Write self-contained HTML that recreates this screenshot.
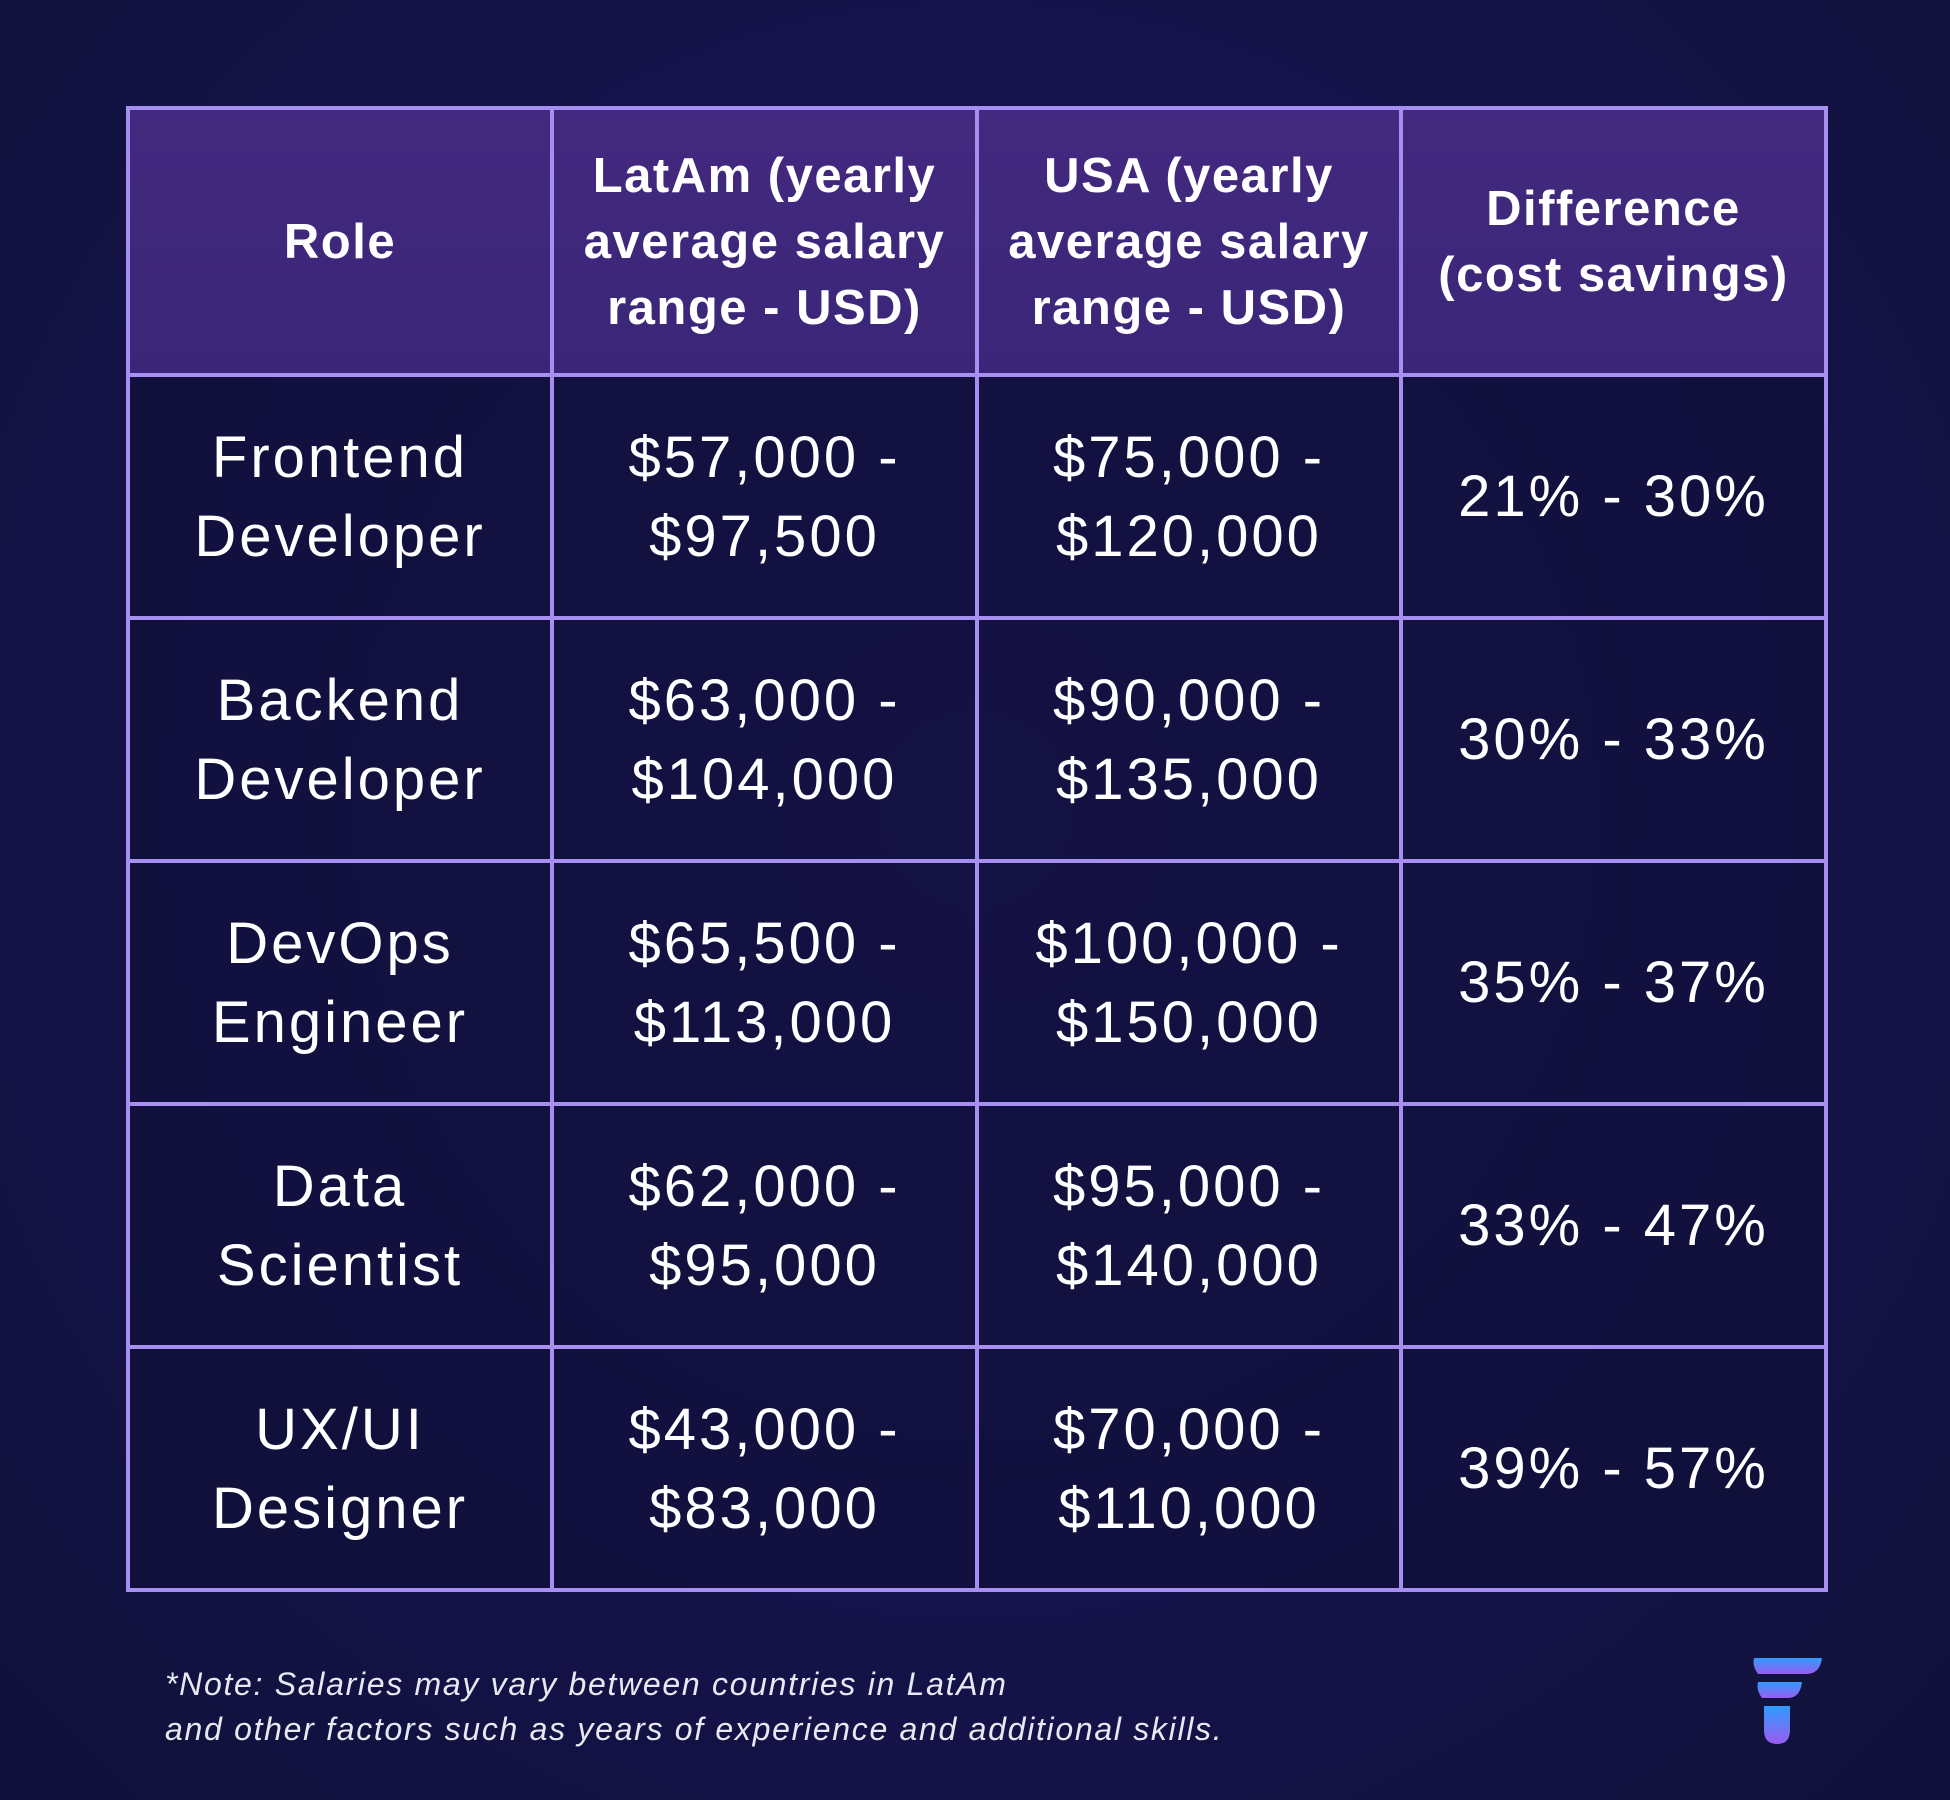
<!DOCTYPE html>
<html><head><meta charset="utf-8">
<style>
html,body{margin:0;padding:0;}
body{width:1950px;height:1800px;background:radial-gradient(ellipse at 50% 45%,#1c1755 0%,#15134a 55%,#10113a 100%);position:relative;overflow:hidden;font-family:"Liberation Sans","DejaVu Sans",sans-serif;color:#fff;}
table{position:absolute;left:126px;top:106px;width:1698px;border-collapse:collapse;table-layout:fixed;}
td,th{border:4px solid #a68ff0;text-align:center;vertical-align:middle;padding:0;}
th{height:263px;font-size:49px;font-weight:bold;line-height:66px;letter-spacing:1.5px;background:linear-gradient(180deg,#43297f,#3a2678);}
td{height:239px;font-size:58px;line-height:79px;letter-spacing:3px;background:rgba(14,14,52,0.55);}
.note{position:absolute;left:165px;top:1662px;font-size:32px;font-style:italic;line-height:45px;letter-spacing:1.7px;color:#e8e8f2;}
</style></head><body>
<table>
<colgroup><col style="width:424px"><col style="width:425px"><col style="width:424px"><col style="width:425px"></colgroup>
<tr>
<th>Role</th>
<th>LatAm (yearly<br>average salary<br>range - USD)</th>
<th>USA (yearly<br>average salary<br>range - USD)</th>
<th>Difference<br>(cost savings)</th>
</tr>
<tr><td>Frontend<br>Developer</td><td>$57,000 -<br>$97,500</td><td>$75,000 -<br>$120,000</td><td>21% - 30%</td></tr>
<tr><td>Backend<br>Developer</td><td>$63,000 -<br>$104,000</td><td>$90,000 -<br>$135,000</td><td>30% - 33%</td></tr>
<tr><td>DevOps<br>Engineer</td><td>$65,500 -<br>$113,000</td><td>$100,000 -<br>$150,000</td><td>35% - 37%</td></tr>
<tr><td>Data<br>Scientist</td><td>$62,000 -<br>$95,000</td><td>$95,000 -<br>$140,000</td><td>33% - 47%</td></tr>
<tr><td>UX/UI<br>Designer</td><td>$43,000 -<br>$83,000</td><td>$70,000 -<br>$110,000</td><td>39% - 57%</td></tr>
</table>
<div class="note">*Note: Salaries may vary between countries in LatAm<br>and other factors such as years of experience and additional skills.</div>
<svg style="position:absolute;left:1750px;top:1656px" width="74" height="92" viewBox="0 0 74 92">
<defs><linearGradient id="g" x1="0" y1="0" x2="0" y2="1"><stop offset="0" stop-color="#2f9bff"/><stop offset="1" stop-color="#9b5cf0"/></linearGradient></defs>
<path d="M4 2 H72 Q70 18 56 18 H8 Q2 10 4 2Z" fill="url(#g)"/>
<path d="M8 26 H52 Q50 42 38 42 H12 Q6 34 8 26Z" fill="url(#g)"/>
<path d="M14 50 H40 V74 Q40 88 27 88 Q14 88 14 74Z" fill="url(#g)"/>
</svg>
</body></html>
